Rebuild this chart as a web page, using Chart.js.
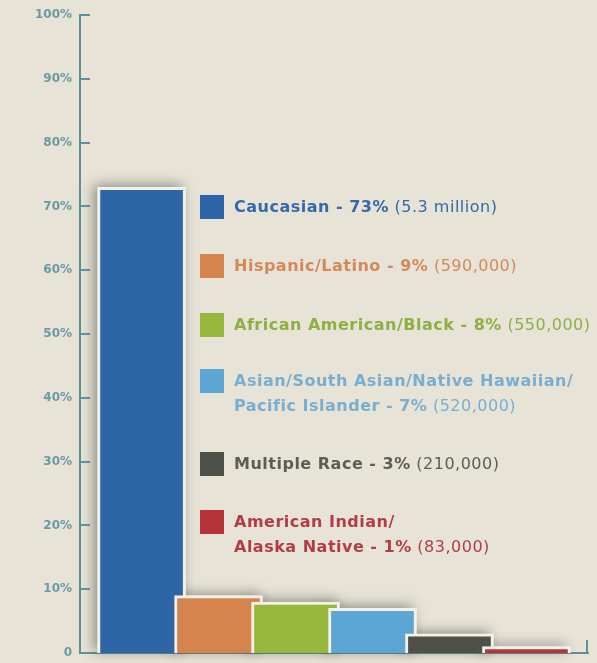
<!DOCTYPE html>
<html>
<head>
<meta charset="utf-8">
<script src="https://cdn.jsdelivr.net/npm/chart.js@4.4.1/dist/chart.umd.min.js"></script>
<style>
  html, body { margin: 0; padding: 0; background: #e7e3d7; }
  #wrap { width: 597px; height: 663px; position: relative; }
</style>
</head>
<body>
<div id="wrap"><canvas id="raceChart"></canvas></div>
<script>
const groups = [
  ['Caucasian'],
  ['Hispanic/Latino'],
  ['African American/Black'],
  ['Asian/South Asian/Native Hawaiian/', 'Pacific Islander'],
  ['Multiple Race'],
  ['American Indian/', 'Alaska Native']
];
const shares = [73, 9, 8, 7, 3, 1];
const counts = ['5.3 million', '590,000', '550,000', '520,000', '210,000', '83,000'];
const yTickValues = [0, 10, 20, 30, 40, 50, 60, 70, 80, 90, 100];

const barColors = ['#2d65a6', '#d5844d', '#97b83d', '#5ba6d3', '#4f5048', '#b5343a'];
const textColors = ['#3569ab', '#d4895a', '#8db044', '#78aed0', '#5c5d57', '#b23d46'];
const axisColor = '#5f8f98';
const tickTextColor = '#6b9aa1';

const barShadows = {
  id: 'barShadows',
  beforeDatasetsDraw(chart) {
    const ctx = chart.ctx;
    chart.getDatasetMeta(0).data.forEach(function (bar) {
      const p = bar.getProps(['x', 'y', 'base', 'width'], true);
      ctx.save();
      ctx.shadowColor = 'rgba(50,50,45,0.5)';
      ctx.shadowBlur = 12;
      ctx.shadowOffsetX = -4;
      ctx.shadowOffsetY = -2;
      ctx.fillStyle = '#f3f1e8';
      ctx.fillRect(p.x - p.width / 2, p.y, p.width, p.base - p.y);
      ctx.restore();
    });
  }
};

// ticks point inward from the axis, like the print
const inwardTicks = {
  id: 'inwardTicks',
  afterDraw(chart) {
    const ctx = chart.ctx;
    const y = chart.scales.y;
    const area = chart.chartArea;
    ctx.save();
    ctx.strokeStyle = axisColor;
    ctx.lineWidth = 2;
    yTickValues.forEach(function (v) {
      const py = Math.round(y.getPixelForValue(v));
      ctx.beginPath();
      ctx.moveTo(area.left, py);
      ctx.lineTo(area.left + 10, py);
      ctx.stroke();
    });
    ctx.beginPath();
    ctx.moveTo(area.right - 1, area.bottom);
    ctx.lineTo(area.right - 1, area.bottom - 13);
    ctx.stroke();
    ctx.restore();
  }
};

const sideLegend = {
  id: 'sideLegend',
  afterDraw(chart) {
    const ctx = chart.ctx;
    const boxTops = [195, 254, 313, 369, 452, 510];
    const boxX = 200, boxSize = 24, textX = 234, lineGap = 25;
    const bold = 'bold 16px "DejaVu Sans", sans-serif';
    const regular = '16px "DejaVu Sans", sans-serif';
    ctx.save();
    ctx.textBaseline = 'middle';
    ctx.textAlign = 'left';
    ctx.letterSpacing = '0.5px';
    groups.forEach(function (lines, i) {
      const top = boxTops[i];
      ctx.fillStyle = barColors[i];
      ctx.fillRect(boxX, top, boxSize, boxSize);
      ctx.fillStyle = textColors[i];
      lines.forEach(function (line, j) {
        const ty = top + 13 + j * lineGap;
        ctx.font = bold;
        if (j < lines.length - 1) {
          ctx.fillText(line, textX, ty);
          return;
        }
        const head = line + ' - ' + shares[i] + '%';
        ctx.fillText(head, textX, ty);
        const w = ctx.measureText(head).width;
        ctx.font = regular;
        ctx.fillText(' (' + counts[i] + ')', textX + w, ty);
      });
    });
    ctx.restore();
  }
};

document.addEventListener('DOMContentLoaded', function () {
  const ctx = document.getElementById('raceChart').getContext('2d');

  new Chart(ctx, {
    type: 'bar',
    data: {
      datasets: [
        {
          data: shares.map(function (v, i) { return { x: i, y: v }; }),
          backgroundColor: barColors,
          borderColor: '#f3f1e8',
          borderWidth: 3,
          borderSkipped: 'start',
          barThickness: 88
        }
      ]
    },
    options: {
      responsive: true,
      maintainAspectRatio: false,
      animation: false,
      layout: { padding: { top: 15, right: 9, bottom: 10, left: 0 } },
      plugins: {
        legend: { display: false },
        tooltip: { enabled: false }
      },
      scales: {
        x: {
          type: 'linear',
          min: -0.8,
          max: 5.8,
          offset: false,
          afterFit: function (scale) { scale.height = 0; },
          ticks: { display: false },
          grid: { display: false },
          border: { color: axisColor, width: 2 }
        },
        y: {
          min: 0,
          max: 100,
          afterFit: function (scale) {
            scale.width = 80;
            scale.paddingTop = 0;
            scale.paddingBottom = 0;
          },
          afterBuildTicks: function (scale) {
            scale.ticks = yTickValues.map(function (v) { return { value: v }; });
          },
          ticks: {
            padding: 8,
            color: tickTextColor,
            font: { family: '"DejaVu Sans"', weight: 'bold', size: 12 },
            callback: function (v) { return v === 0 ? '0' : v + '%'; }
          },
          grid: { display: false, drawTicks: false },
          border: { color: axisColor, width: 2 }
        }
      }
    },
    plugins: [barShadows, inwardTicks, sideLegend]
  });
});
</script>
</body>
</html>
